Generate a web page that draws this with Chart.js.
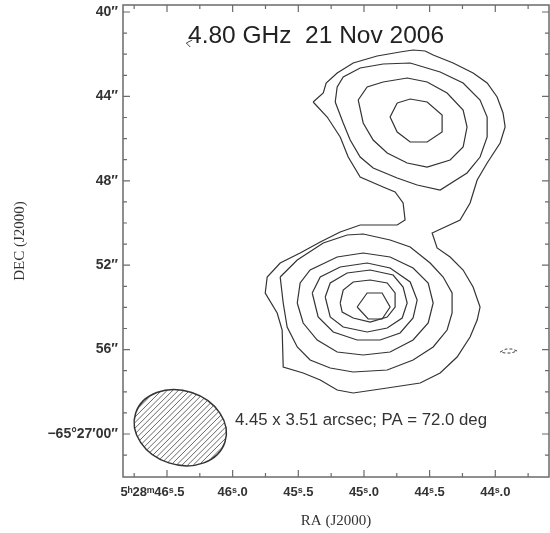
<!DOCTYPE html>
<html>
<head>
<meta charset="utf-8">
<script src="https://cdn.jsdelivr.net/npm/chart.js@4.4.1/dist/chart.umd.min.js"></script>
<style>
  html, body { margin: 0; padding: 0; background: #fff; }
  #wrap { width: 550px; height: 533px; }
</style>
</head>
<body>
<div id="wrap"><canvas id="c" width="550" height="533"></canvas></div>
<script>
// ---------- DATA (RA in seconds of time after 5h28m, DEC in arcsec after -65d26m) ----------
const titleText = '4.80 GHz  21 Nov 2006';
const beamText = '4.45 x 3.51 arcsec; PA = 72.0 deg';
const beamMajor = 4.45;   // arcsec
const beamMinor = 3.51;   // arcsec
const beamPA = 72.0;      // deg
const beamCentre = [46.399, 59.70];

const raTickValues = [46.5, 46.0, 45.5, 45.0, 44.5, 44.0];
const raTickLabels = ['5\u02B028\u1D5046\u02E2.5\u2007\u2007\u2007\u2007', '46\u02E2.0', '45\u02E2.5', '45\u02E2.0', '44\u02E2.5', '44\u02E2.0'];
const raMinorTicks = [46.75, 46.25, 45.75, 45.25, 44.75, 44.25, 43.75];
const decTickValues = [40, 44, 48, 52, 56, 60];
const decTickLabels = ['40\u2033', '44\u2033', '48\u2033', '52\u2033', '56\u2033', '\u221265\u00B027\u203200\u2033'];
const decMinorTicks = [41, 42, 43, 45, 46, 47, 49, 50, 51, 53, 54, 55, 57, 58, 59, 61];
const raRange = [43.591, 46.835];
const decRange = [39.668, 62.037];

// outermost contour, enclosing both components (closed)
const contourOuter = [
  [45.387,44.265],[45.310,43.839],[45.288,43.365],[45.204,42.891],[45.082,42.417],[44.900,42.085],
  [44.725,41.895],[44.626,41.801],[44.534,41.848],[44.473,42.038],[44.321,42.417],[44.169,42.891],
  [44.062,43.365],[43.986,44.028],[43.941,44.786],[43.925,45.450],[43.963,46.208],[44.062,47.156],
  [44.138,47.962],[44.192,49.052],[44.268,49.857],[44.481,50.474],[44.443,51.184],[44.344,51.611],
  [44.245,52.227],[44.169,53.033],[44.116,53.981],[44.138,54.597],[44.192,55.402],[44.291,56.350],
  [44.420,57.109],[44.572,57.582],[44.823,57.819],[45.082,58.056],[45.204,57.914],[45.333,57.440],
  [45.463,57.109],[45.615,56.824],[45.623,55.071],[45.661,54.265],[45.752,53.317],[45.737,52.559],
  [45.638,51.895],[45.486,51.421],[45.333,50.900],[45.181,50.426],[45.029,50.094],[44.747,50.094],
  [44.687,49.857],[44.702,49.052],[44.763,48.530],[44.854,48.293],[45.029,47.820],[45.120,46.872],
  [45.181,45.924],[45.280,44.976]
];
// northern component
const contourN2 = [
  [45.219,44.265],[45.204,43.554],[45.158,43.080],[45.029,42.654],[44.854,42.464],[44.648,42.417],
  [44.420,42.843],[44.245,43.365],[44.116,44.170],[44.062,44.976],[44.062,45.924],[44.116,46.872],
  [44.215,47.630],[44.420,48.436],[44.595,48.199],[44.747,47.867],[44.930,47.393],[45.029,46.872],
  [45.105,46.066],[45.158,45.260]
];
const contourN3 = [
  [45.044,44.170],[44.976,43.554],[44.854,43.317],[44.671,43.128],[44.519,43.317],[44.367,43.839],
  [44.245,44.644],[44.215,45.450],[44.245,46.398],[44.344,47.014],[44.519,47.346],[44.671,47.156],
  [44.823,46.682],[44.930,46.066],[45.006,45.260]
];
const contourN4 = [
  [44.747,44.312],[44.648,44.123],[44.519,44.265],[44.405,44.881],[44.405,45.687],[44.519,46.161],
  [44.648,46.161],[44.747,45.687],[44.801,44.976]
];
// southern component
const contourS2 = [
  [45.638,52.559],[45.508,51.753],[45.310,50.947],[45.128,50.568],[45.006,50.521],[44.801,50.805],
  [44.648,51.137],[44.496,51.895],[44.397,52.559],[44.329,53.317],[44.329,54.265],[44.367,55.071],
  [44.473,55.876],[44.626,56.492],[44.823,56.966],[45.082,57.061],[45.257,56.872],[45.410,56.492],
  [45.508,55.876],[45.585,54.928],[45.615,53.791]
];
const contourS3 = [
  [45.508,53.791],[45.486,52.843],[45.410,52.227],[45.204,51.611],[45.006,51.421],[44.801,51.611],
  [44.626,52.132],[44.511,52.843],[44.473,53.791],[44.511,54.739],[44.626,55.545],[44.801,56.113],
  [45.006,56.255],[45.204,56.113],[45.356,55.545],[45.463,54.739]
];
const contourS4 = [
  [45.394,53.317],[45.333,52.559],[45.181,52.085],[44.976,51.895],[44.801,52.132],[44.648,52.796],
  [44.595,53.649],[44.626,54.502],[44.725,55.213],[44.877,55.545],[45.052,55.545],[45.234,55.165],
  [45.349,54.455]
];
const contourS5 = [
  [45.295,53.507],[45.257,52.843],[45.128,52.369],[44.953,52.227],[44.778,52.464],[44.702,53.033],
  [44.671,53.791],[44.709,54.502],[44.823,54.976],[44.976,55.165],[45.158,54.928],[45.257,54.455]
];
const contourS6 = [
  [45.181,53.791],[45.158,53.175],[45.082,52.796],[44.953,52.701],[44.823,52.843],[44.763,53.317],
  [44.763,53.981],[44.823,54.455],[44.953,54.692],[45.082,54.502],[45.166,54.218]
];
const contourS7 = [
  [45.052,53.981],[44.976,53.317],[44.862,53.317],[44.801,53.981],[44.862,54.549],[44.968,54.549]
];
// tiny noise fragments
const fragmentEast = [[43.963,56.113],[43.918,55.971],[43.872,55.971],[43.834,56.066],[43.880,56.161],[43.925,56.161]];
const fragmentTitle = [[46.308,41.327],[46.353,41.469],[46.323,41.659]];

// ---------- CHART ----------
const closedContours = [contourOuter, contourN2, contourN3, contourN4, contourS2, contourS3, contourS4, contourS5, contourS6, contourS7];
const toPts = arr => arr.map(p => ({x: p[0], y: p[1]}));
const datasets = closedContours.map(c => ({
  data: toPts(c.concat([c[0]])),
  showLine: true, pointRadius: 0, borderColor: '#333', borderWidth: 1.2, tension: 0, fill: false
}));
datasets.push({data: toPts(fragmentEast.concat([fragmentEast[0]])), showLine: true, pointRadius: 0,
  borderColor: '#444', borderWidth: 1, borderDash: [3, 2], tension: 0});
datasets.push({data: toPts(fragmentTitle), showLine: true, pointRadius: 0,
  borderColor: '#444', borderWidth: 1, tension: 0});

const frameColor = '#6b6b6b';

const decorPlugin = {
  id: 'decor',
  afterDraw(chart) {
    const ctx = chart.ctx;
    const {left, right, top, bottom} = chart.chartArea;
    const xs = chart.scales.x, ys = chart.scales.y;
    ctx.save();
    // beam ellipse with hatching
    const pxPerArcsec = Math.abs(ys.getPixelForValue(beamCentre[1] + 1) - ys.getPixelForValue(beamCentre[1]));
    const cx = xs.getPixelForValue(beamCentre[0]);
    const cy = ys.getPixelForValue(beamCentre[1]);
    const rx = beamMajor / 2 * pxPerArcsec, ry = beamMinor / 2 * pxPerArcsec;
    const rot = (90 - beamPA) * Math.PI / 180;
    ctx.beginPath();
    ctx.ellipse(cx, cy, rx, ry, rot, 0, Math.PI * 2);
    ctx.save();
    ctx.clip();
    ctx.strokeStyle = '#555';
    ctx.lineWidth = 0.9;
    ctx.beginPath();
    for (let d = -140; d <= 140; d += 5.6) {
      ctx.moveTo(cx + d - 60, cy + 60);
      ctx.lineTo(cx + d + 60, cy - 60);
    }
    ctx.stroke();
    ctx.restore();
    ctx.beginPath();
    ctx.ellipse(cx, cy, rx, ry, rot, 0, Math.PI * 2);
    ctx.strokeStyle = '#333';
    ctx.lineWidth = 1.5;
    ctx.stroke();

    // frame
    ctx.strokeStyle = frameColor;
    ctx.lineWidth = 1.5;
    ctx.strokeRect(left, top, right - left, bottom - top);
    // ticks
    ctx.lineWidth = 1.2;
    ctx.beginPath();
    const xt = (v, len) => {
      const x = xs.getPixelForValue(v);
      ctx.moveTo(x, bottom); ctx.lineTo(x, bottom - len);
      ctx.moveTo(x, top); ctx.lineTo(x, top + len);
    };
    const yt = (v, len) => {
      const y = ys.getPixelForValue(v);
      ctx.moveTo(left, y); ctx.lineTo(left + len, y);
      ctx.moveTo(right, y); ctx.lineTo(right - len, y);
    };
    raTickValues.forEach(v => xt(v, 7));
    raMinorTicks.forEach(v => xt(v, 4));
    decTickValues.forEach(v => yt(v, 7));
    decMinorTicks.forEach(v => yt(v, 4));
    ctx.stroke();

    // texts
    ctx.fillStyle = '#222';
    ctx.textBaseline = 'alphabetic';
    ctx.textAlign = 'left';
    ctx.font = '24.5px "Liberation Sans", Arial, sans-serif';
    ctx.fillText(titleText, left + 65, top + 38);
    ctx.fillStyle = '#333';
    ctx.font = '16.8px "Liberation Sans", Arial, sans-serif';
    ctx.fillText(beamText, left + 112, top + 420);
    ctx.restore();
  }
};

new Chart(document.getElementById('c'), {
  type: 'scatter',
  data: {datasets},
  options: {
    responsive: false,
    animation: false,
    devicePixelRatio: 1,
    layout: {padding: {left: 0, right: 1, top: 5, bottom: 0}},
    plugins: {legend: {display: false}, tooltip: {enabled: false}, title: {display: false}},
    scales: {
      x: {
        type: 'linear', reverse: true, min: raRange[0], max: raRange[1],
        afterFit: s => { s.height = 56; s.paddingLeft = 0; s.paddingRight = 0; },
        afterBuildTicks: s => { s.ticks = raTickValues.map(v => ({value: v})); },
        grid: {display: false, drawTicks: false},
        border: {display: false},
        ticks: {
          autoSkip: false, maxRotation: 0, padding: 8, color: '#333',
          font: {family: '"Liberation Sans", Arial, sans-serif', size: 13, weight: 'bold'},
          callback: (v) => { const i = raTickValues.indexOf(v); return i >= 0 ? raTickLabels[i] : ''; }
        },
        title: {display: true, text: 'RA (J2000)', color: '#333',
          font: {family: '"Liberation Serif", "Times New Roman", serif', size: 15},
          padding: {top: 0, bottom: 3}}
      },
      y: {
        type: 'linear', reverse: true, min: decRange[0], max: decRange[1],
        afterFit: s => { s.width = 123; s.paddingTop = 0; s.paddingBottom = 0; },
        afterBuildTicks: s => { s.ticks = decTickValues.map(v => ({value: v})); },
        grid: {display: false, drawTicks: false},
        border: {display: false},
        ticks: {
          autoSkip: false, padding: 5, color: '#333',
          font: {family: '"Liberation Sans", Arial, sans-serif', size: 14, weight: 'bold'},
          callback: (v) => { const i = decTickValues.indexOf(v); return i >= 0 ? decTickLabels[i] : ''; }
        },
        title: {display: true, text: 'DEC (J2000)', color: '#333',
          font: {family: '"Liberation Serif", "Times New Roman", serif', size: 15},
          padding: {top: 11, bottom: 0}}
      }
    }
  },
  plugins: [decorPlugin]
});
</script>
</body>
</html>
